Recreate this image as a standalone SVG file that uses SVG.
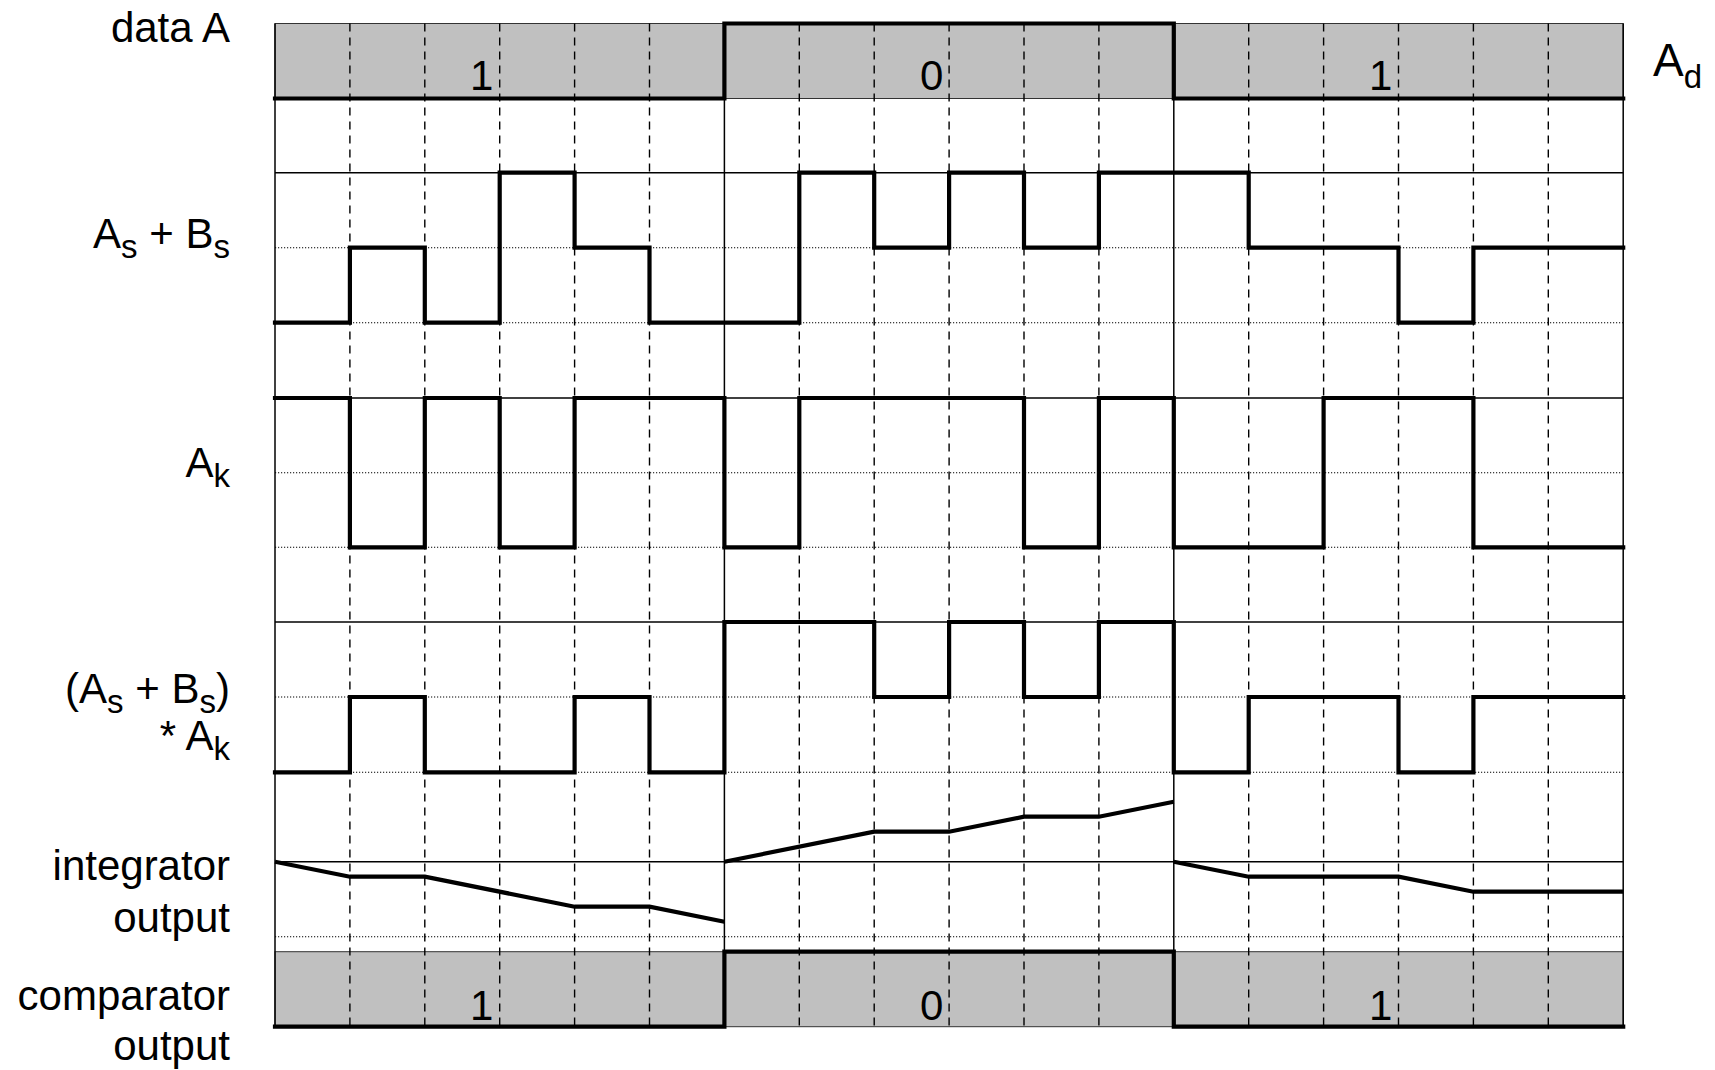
<svg xmlns="http://www.w3.org/2000/svg" width="1715" height="1070" viewBox="0 0 1715 1070">
<style>
  .lbl { font-family: "Liberation Sans", Arial, sans-serif; font-size: 42px; fill: #000; }
  .sub { font-size: 33px; }
  .dig { font-family: "Liberation Sans", Arial, sans-serif; font-size: 42px; fill: #000; }
  .band { fill: #c0c0c0; stroke: #333; stroke-width: 1; }
  .thin { stroke: #000; stroke-width: 1.5; fill: none; }
  .dash { stroke: #000; stroke-width: 1.4; stroke-dasharray: 8 6; fill: none; }
  .dot { stroke: #000; stroke-width: 1.1; stroke-dasharray: 1.2 1.8; fill: none; }
  .wave { stroke: #000; stroke-width: 4.2; fill: none; stroke-linejoin: miter; stroke-linecap: square; }
</style>
<rect width="1715" height="1070" fill="#fff"/>

<g id="bands">
  <rect class="band" x="275" y="23.5" width="1348.2" height="75"/>
  <rect class="band" x="275" y="951.7" width="1348.2" height="75"/>
</g>

<g id="grid">
  <g id="dotted-lines">
    <line class="dot" x1="275" y1="247.7" x2="1623.2" y2="247.7"/>
    <line class="dot" x1="275" y1="322.7" x2="1623.2" y2="322.7"/>
    <line class="dot" x1="275" y1="472.7" x2="1623.2" y2="472.7"/>
    <line class="dot" x1="275" y1="547.3" x2="1623.2" y2="547.3"/>
    <line class="dot" x1="275" y1="697" x2="1623.2" y2="697"/>
    <line class="dot" x1="275" y1="772.3" x2="1623.2" y2="772.3"/>
    <line class="dot" x1="275" y1="936.7" x2="1623.2" y2="936.7"/>
  </g>
  <g id="solid-lines">
    <line class="thin" x1="275" y1="172.7" x2="1623.2" y2="172.7"/>
    <line class="thin" x1="275" y1="398" x2="1623.2" y2="398"/>
    <line class="thin" x1="275" y1="622" x2="1623.2" y2="622"/>
    <line class="thin" x1="275" y1="861.7" x2="1623.2" y2="861.7"/>
    <line class="thin" x1="275" y1="23.5" x2="275" y2="1026.7"/>
    <line class="thin" x1="724.4" y1="23.5" x2="724.4" y2="1026.7"/>
    <line class="thin" x1="1173.8" y1="23.5" x2="1173.8" y2="1026.7"/>
    <line class="thin" x1="1623.2" y1="23.5" x2="1623.2" y2="1026.7"/>
  </g>
  <g id="dashed-lines">
    <line class="dash" x1="349.9" y1="23.5" x2="349.9" y2="1026.7"/>
    <line class="dash" x1="424.8" y1="23.5" x2="424.8" y2="1026.7"/>
    <line class="dash" x1="499.7" y1="23.5" x2="499.7" y2="1026.7"/>
    <line class="dash" x1="574.6" y1="23.5" x2="574.6" y2="1026.7"/>
    <line class="dash" x1="649.5" y1="23.5" x2="649.5" y2="1026.7"/>
    <line class="dash" x1="799.3" y1="23.5" x2="799.3" y2="1026.7"/>
    <line class="dash" x1="874.2" y1="23.5" x2="874.2" y2="1026.7"/>
    <line class="dash" x1="949.1" y1="23.5" x2="949.1" y2="1026.7"/>
    <line class="dash" x1="1024" y1="23.5" x2="1024" y2="1026.7"/>
    <line class="dash" x1="1098.9" y1="23.5" x2="1098.9" y2="1026.7"/>
    <line class="dash" x1="1248.7" y1="23.5" x2="1248.7" y2="1026.7"/>
    <line class="dash" x1="1323.6" y1="23.5" x2="1323.6" y2="1026.7"/>
    <line class="dash" x1="1398.5" y1="23.5" x2="1398.5" y2="1026.7"/>
    <line class="dash" x1="1473.4" y1="23.5" x2="1473.4" y2="1026.7"/>
    <line class="dash" x1="1548.3" y1="23.5" x2="1548.3" y2="1026.7"/>
  </g>
</g>

<g id="row-data-a">
  <polyline class="wave" points="275,98.5 724.4,98.5 724.4,23.5 1173.8,23.5 1173.8,98.5 1623.2,98.5"/>
  <text class="dig" x="470" y="90">1</text>
  <text class="dig" x="920" y="90">0</text>
  <text class="dig" x="1369" y="90">1</text>
</g>

<g id="row-as-bs">
  <polyline class="wave" points="275,322.7 349.9,322.7 349.9,247.7 424.8,247.7 424.8,322.7 499.7,322.7 499.7,172.7 574.6,172.7 574.6,247.7 649.5,247.7 649.5,322.7 799.3,322.7 799.3,172.7 874.2,172.7 874.2,247.7 949.1,247.7 949.1,172.7 1024,172.7 1024,247.7 1098.9,247.7 1098.9,172.7 1248.7,172.7 1248.7,247.7 1398.5,247.7 1398.5,322.7 1473.4,322.7 1473.4,247.7 1623.2,247.7"/>
</g>

<g id="row-ak">
  <polyline class="wave" points="275,398 349.9,398 349.9,547.3 424.8,547.3 424.8,398 499.7,398 499.7,547.3 574.6,547.3 574.6,398 724.4,398 724.4,547.3 799.3,547.3 799.3,398 1024,398 1024,547.3 1098.9,547.3 1098.9,398 1173.8,398 1173.8,547.3 1323.6,547.3 1323.6,398 1473.4,398 1473.4,547.3 1623.2,547.3"/>
</g>

<g id="row-product">
  <polyline class="wave" points="275,772.3 349.9,772.3 349.9,697 424.8,697 424.8,772.3 574.6,772.3 574.6,697 649.5,697 649.5,772.3 724.4,772.3 724.4,622 874.2,622 874.2,697 949.1,697 949.1,622 1024,622 1024,697 1098.9,697 1098.9,622 1173.8,622 1173.8,772.3 1248.7,772.3 1248.7,697 1398.5,697 1398.5,772.3 1473.4,772.3 1473.4,697 1623.2,697"/>
</g>

<g id="row-integrator">
  <polyline class="wave" style="stroke-linecap:butt" points="275,861.7 349.9,876.7 424.8,876.7 574.6,906.7 649.5,906.7 724.4,921.7"/>
  <polyline class="wave" style="stroke-linecap:butt" points="724.4,861.7 874.2,831.7 949.1,831.7 1024,816.7 1098.9,816.7 1173.8,801.7"/>
  <polyline class="wave" style="stroke-linecap:butt" points="1173.8,861.7 1248.7,876.7 1398.5,876.7 1473.4,891.7 1623.2,891.7"/>
</g>

<g id="row-comparator">
  <polyline class="wave" points="275,1026.7 724.4,1026.7 724.4,951.7 1173.8,951.7 1173.8,1026.7 1623.2,1026.7"/>
  <text class="dig" x="470" y="1020">1</text>
  <text class="dig" x="920" y="1020">0</text>
  <text class="dig" x="1369" y="1020">1</text>
</g>

<g id="labels">
  <text class="lbl" x="230" y="42" text-anchor="end">data A</text>
  <text class="lbl" x="230" y="248" text-anchor="end">A<tspan class="sub" dy="10">s</tspan><tspan dy="-10"> + B</tspan><tspan class="sub" dy="10">s</tspan></text>
  <text class="lbl" x="230" y="477" text-anchor="end">A<tspan class="sub" dy="10">k</tspan></text>
  <text class="lbl" x="230" y="703" text-anchor="end">(A<tspan class="sub" dy="10">s</tspan><tspan dy="-10"> + B</tspan><tspan class="sub" dy="10">s</tspan><tspan dy="-10">)</tspan></text>
  <text class="lbl" x="230" y="750" text-anchor="end">* A<tspan class="sub" dy="10">k</tspan></text>
  <text class="lbl" x="230" y="880" text-anchor="end">integrator</text>
  <text class="lbl" x="230" y="932" text-anchor="end">output</text>
  <text class="lbl" x="230" y="1010" text-anchor="end">comparator</text>
  <text class="lbl" x="230" y="1060" text-anchor="end">output</text>
  <text class="lbl" x="1653" y="76" style="font-size:46px">A<tspan class="sub" dy="12">d</tspan></text>
</g>
</svg>
